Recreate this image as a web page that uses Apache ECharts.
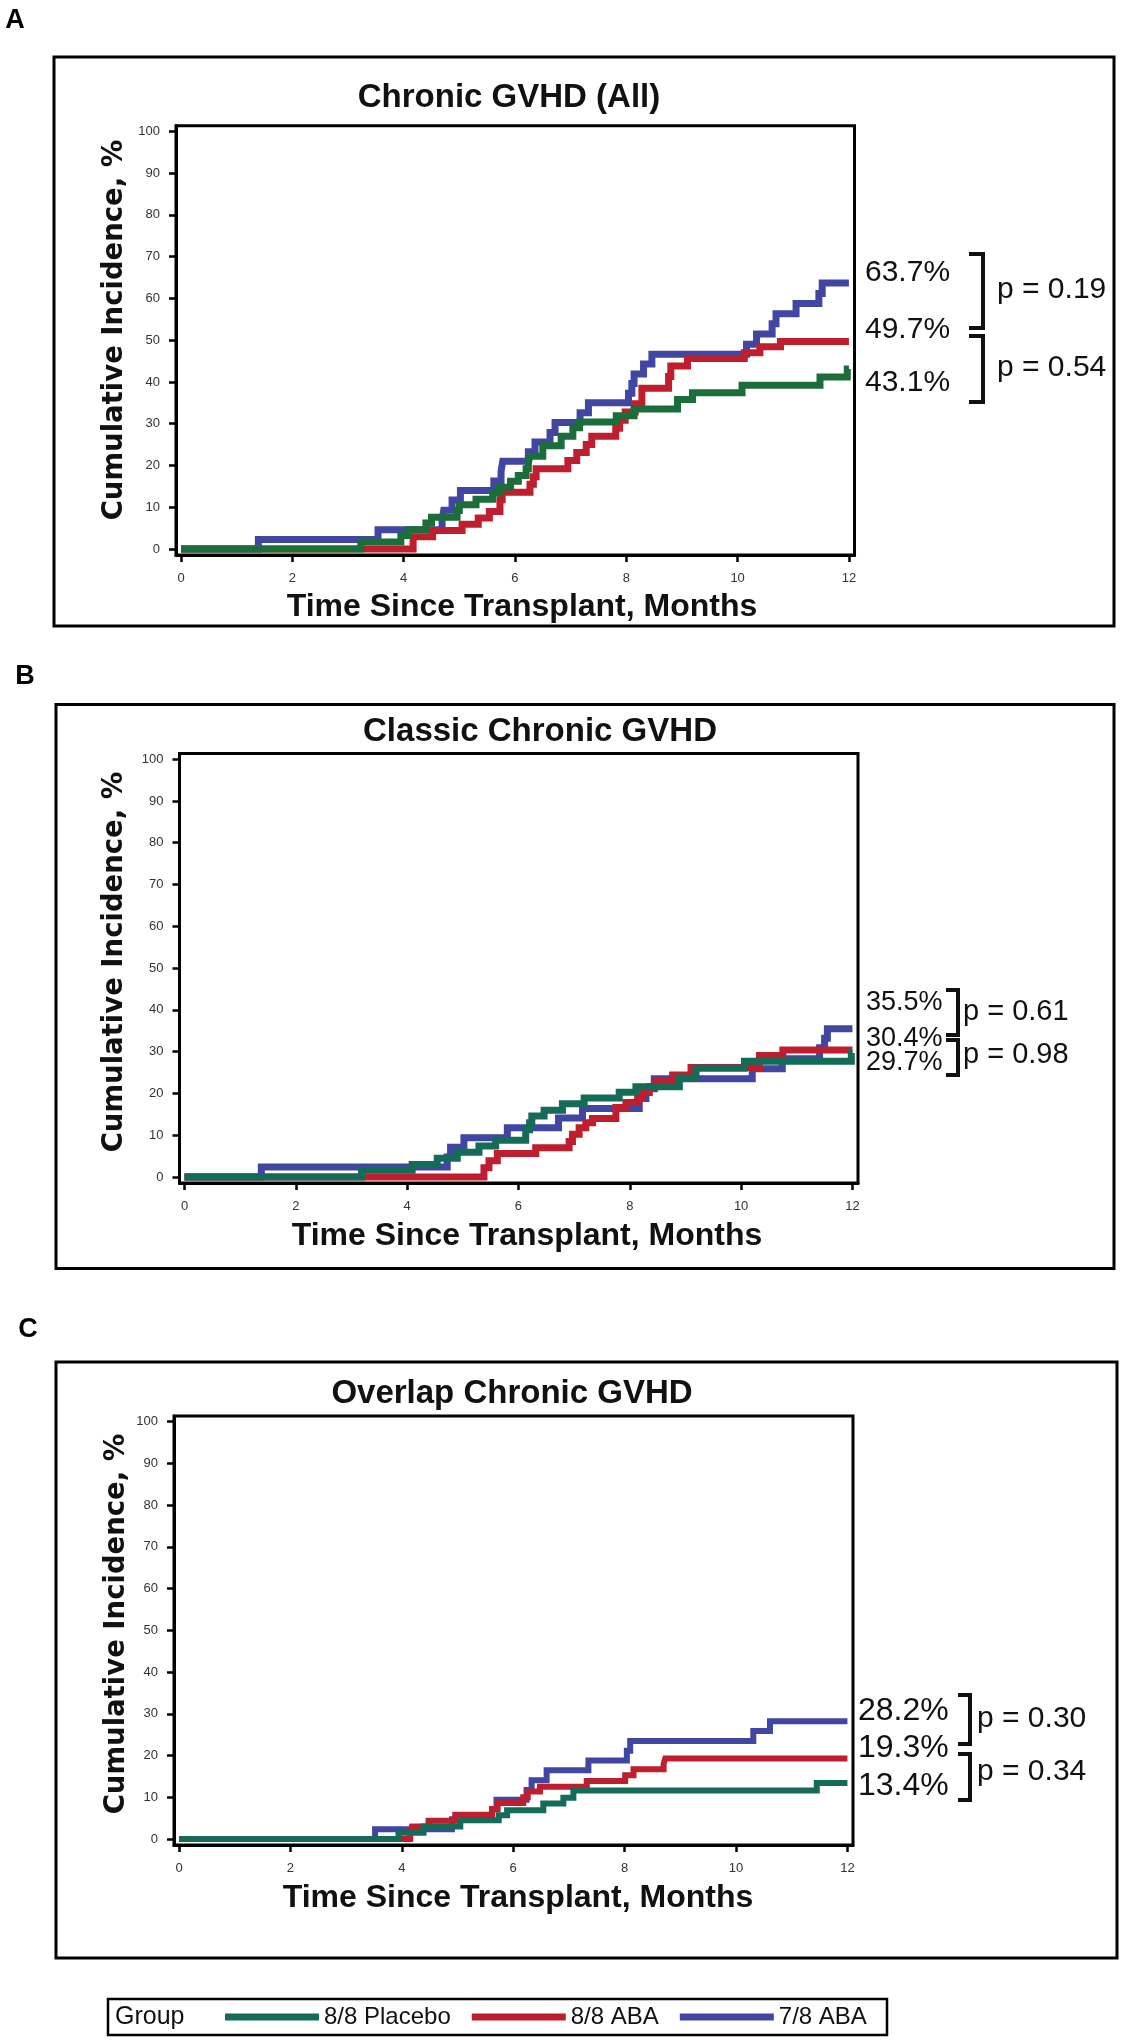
<!DOCTYPE html>
<html><head><meta charset="utf-8">
<script src="https://cdn.jsdelivr.net/npm/echarts@6/dist/echarts.min.js"></script>
<style>html,body{margin:0;padding:0;background:#fff}#chart{width:1126px;height:2040px}</style>
</head><body><div id="chart"></div>
<script>
// ---------------- DATA ----------------
const groups = ['8/8 Placebo', '8/8 ABA', '7/8 ABA'];
const xTicks = [0, 2, 4, 6, 8, 10, 12];
const yTicks = [0, 10, 20, 30, 40, 50, 60, 70, 80, 90, 100];
const panelLetters = ['A', 'B', 'C'];
const panelTitles = ['Chronic GVHD (All)', 'Classic Chronic GVHD', 'Overlap Chronic GVHD'];
const xAxisTitle = 'Time Since Transplant, Months';
const yAxisTitle = 'Cumulative Incidence, %';
const legendTitle = 'Group';

// Panel A: Chronic GVHD (All)  [month, cumulative incidence %]
const allPlacebo = [[0,0],[3.23,1.7],[3.95,3.2],[4.08,4.6],[4.40,6.2],[4.50,7.6],[4.96,9.2],[5.00,10.6],[5.30,11.9],[5.60,13.4],[5.72,14.8],[5.92,16.2],[6.06,17.6],[6.20,19.2],[6.24,20.7],[6.27,22.2],[6.50,24.7],[6.83,27.0],[7.04,29.0],[7.16,30.4],[7.82,31.9],[8.14,33.5],[8.92,35.8],[9.19,37.4],[10.08,39.2],[11.48,41.2],[11.97,43.1],[12,43.1]];
const allAba88 = [[0,0],[4.17,2.9],[4.52,4.4],[5.05,5.9],[5.34,7.4],[5.54,9.0],[5.73,11.8],[5.77,13.6],[6.27,15.5],[6.33,17.3],[6.38,19.2],[6.95,21.2],[7.11,23.1],[7.28,25.0],[7.38,27.0],[7.81,28.9],[7.88,30.8],[7.98,32.8],[8.16,34.8],[8.28,38.5],[8.76,41.3],[8.80,43.8],[9.10,45.6],[10.12,47.0],[10.40,48.4],[10.77,49.7],[12,49.7]];
const allAba78 = [[0,0],[1.39,2.3],[3.54,4.6],[4.69,7.0],[4.72,9.3],[4.87,11.7],[5.02,14.0],[5.62,16.3],[5.75,18.6],[5.78,21.0],[6.24,23.3],[6.36,25.6],[6.63,27.9],[6.72,30.3],[7.17,32.6],[7.32,35.0],[8.04,37.3],[8.10,39.6],[8.14,41.9],[8.31,44.3],[8.46,46.6],[10.16,49.0],[10.34,51.5],[10.62,53.9],[10.69,56.3],[11.05,58.8],[11.46,61.2],[11.52,63.7],[12,63.7]];
const allFinal = ['63.7%', '49.7%', '43.1%'];
const allP = ['p = 0.19', 'p = 0.54'];

// Panel B: Classic Chronic GVHD
const classicPlacebo = [[0,0],[3.18,1.6],[4.09,3.0],[4.54,4.5],[4.90,5.9],[5.29,7.4],[5.59,8.8],[6.13,11.3],[6.20,13.0],[6.24,14.6],[6.46,16.0],[6.79,17.5],[7.18,18.9],[7.81,20.3],[8.11,21.6],[8.89,23.7],[9.19,26.0],[10.06,27.7],[11.98,29.7],[12,29.7]];
const classicAba88 = [[0,0],[5.38,2.2],[5.47,3.9],[5.62,5.6],[6.31,7.0],[6.91,8.5],[6.97,10.2],[7.09,11.8],[7.21,13.0],[7.33,14.0],[7.75,16.6],[7.93,17.8],[8.14,19.0],[8.23,20.2],[8.35,21.6],[8.47,23.0],[8.77,24.4],[9.10,26.2],[10.33,29.1],[10.75,30.4],[12,30.4]];
const classicAba78 = [[0,0],[1.38,2.4],[4.72,4.8],[4.78,7.1],[5.02,9.4],[5.80,11.8],[6.72,14.1],[7.15,16.4],[8.17,18.8],[8.29,21.1],[8.44,23.5],[10.20,25.9],[10.74,28.3],[11.41,30.9],[11.50,33.2],[11.55,35.5],[12,35.5]];
const classicFinal = ['35.5%', '30.4%', '29.7%'];
const classicP = ['p = 0.61', 'p = 0.98'];

// Panel C: Overlap Chronic GVHD
const overlapPlacebo = [[0,0],[3.94,1.5],[4.39,3.0],[5.05,4.5],[5.74,5.7],[5.89,6.9],[6.54,8.5],[6.90,9.9],[7.08,11.6],[11.45,13.4],[12,13.4]];
const overlapAba88 = [[0,0],[4.15,1.5],[4.18,3.0],[4.48,4.4],[4.96,5.8],[5.62,7.2],[5.72,8.6],[6.18,10.0],[6.26,11.4],[6.48,12.5],[7.32,13.9],[8.01,15.3],[8.16,16.7],[8.70,18.0],[8.73,19.3],[12,19.3]];
const overlapAba78 = [[0,0],[3.52,2.35],[4.90,4.7],[5.62,7.05],[5.70,9.4],[6.24,11.75],[6.33,14.1],[6.60,16.45],[7.35,18.8],[8.04,21.15],[8.10,23.5],[10.31,25.85],[10.61,28.2],[12,28.2]];
const overlapFinal = ['28.2%', '19.3%', '13.4%'];
const overlapP = ['p = 0.30', 'p = 0.34'];

// ---------------- LAYOUT / STYLE ----------------
const panelData = [
  { placebo: allPlacebo, aba88: allAba88, aba78: allAba78, finals: allFinal, ps: allP },
  { placebo: classicPlacebo, aba88: classicAba88, aba78: classicAba78, finals: classicFinal, ps: classicP },
  { placebo: overlapPlacebo, aba88: overlapAba88, aba78: overlapAba78, finals: overlapFinal, ps: overlapP }
];
const layout = [
  { box:[54,57,1114,626], letter:[15,21], title:[509,98], grid:{left:176,top:125.7,width:678.5,height:429.3},
    xTitle:[522,607], yTitle:[115,330], pctX:865, pctY:[273,330,383], pctSize:30, pX:997, pY:[290,368], pSize:30,
    brackets:[[969,983,254,328],[969,983,336,402]], lw:7, green:'#1b6e3a' },
  { box:[56,704.5,1114,1268.6], letter:[25,677], title:[540,732], grid:{left:179.5,top:753.5,width:678.5,height:429.5},
    xTitle:[527,1236], yTitle:[115,962], pctX:866, pctY:[1003,1039,1063], pctSize:27, pX:963, pY:[1012,1055], pSize:29,
    brackets:[[946,958,990,1035],[946,958,1040,1075]], lw:7, green:'#136b58' },
  { box:[56,1362,1117,1958], letter:[28,1330], title:[512,1394], grid:{left:174,top:1416,width:679,height:429},
    xTitle:[518,1898], yTitle:[117,1624], pctX:858, pctY:[1711,1748,1786], pctSize:32, pX:977, pY:[1719,1772], pSize:30,
    brackets:[[958,970,1695,1744],[958,970,1754,1800]], lw:6, green:'#136b58' }
];
const RED = '#be1e2d', BLUE = '#4246a3';
const SANS = 'Liberation Sans, Arial, Helvetica, sans-serif';
const WIDE = 'DejaVu Sans, Verdana, sans-serif';

const grids = [], xAxes = [], yAxes = [], graphics = [];
const seriesBlueRed = [], seriesGreen = [];

layout.forEach((L, i) => {
  grids.push(Object.assign({ show: true, borderColor: '#000', borderWidth: 3, backgroundColor: 'transparent' }, L.grid));
  xAxes.push({
    type: 'value', gridIndex: i, min: -0.09, max: 12.1,
    axisLine: { show: true, onZero: false, lineStyle: { color: '#000', width: 3 } },
    axisTick: { show: true, inside: false, length: 7, customValues: xTicks, lineStyle: { color: '#000', width: 2.5 } },
    axisLabel: { show: true, customValues: xTicks, margin: 17, fontSize: 13, color: '#333', fontFamily: SANS },
    splitLine: { show: false }
  });
  yAxes.push({
    type: 'value', gridIndex: i, min: -1.44, max: 101.35,
    axisLine: { show: true, onZero: false, lineStyle: { color: '#000', width: 3 } },
    axisTick: { show: true, inside: false, length: 7, customValues: yTicks, lineStyle: { color: '#000', width: 2.5 } },
    axisLabel: { show: true, customValues: yTicks, margin: 16, fontSize: 13, color: '#333', fontFamily: SANS },
    splitLine: { show: false }
  });
  const D = panelData[i];
  const mk = (name, data, color) => ({
    name, type: 'line', xAxisIndex: i, yAxisIndex: i, data, step: 'end', symbol: 'none', silent: true,
    itemStyle: { color }, lineStyle: { color, width: L.lw, cap: 'butt', join: 'miter' }, animation: false
  });
  seriesBlueRed.push(mk(groups[2], D.aba78, BLUE));
  seriesBlueRed.push(mk(groups[1], D.aba88, RED));
  seriesGreen.unshift(mk(groups[0], D.placebo, L.green));

  // outer panel box
  graphics.push({ type: 'rect', silent: true, shape: { x: L.box[0], y: L.box[1], width: L.box[2]-L.box[0], height: L.box[3]-L.box[1] },
    style: { fill: 'none', stroke: '#000', lineWidth: 3 } });
  // panel letter
  graphics.push({ type: 'text', x: L.letter[0], y: L.letter[1], style: { text: panelLetters[i], fontSize: 27, fontWeight: 'bold', fontFamily: SANS, fill: '#000', align: 'center', verticalAlign: 'middle' } });
  // title
  graphics.push({ type: 'text', x: L.title[0], y: L.title[1], style: { text: panelTitles[i], fontSize: 33, fontWeight: 'bold', fontFamily: SANS, fill: '#111', align: 'center', verticalAlign: 'middle' } });
  // axis titles
  graphics.push({ type: 'text', x: L.xTitle[0], y: L.xTitle[1], style: { text: xAxisTitle, fontSize: 32, fontWeight: 'bold', fontFamily: SANS, fill: '#111', align: 'center', verticalAlign: 'middle' } });
  graphics.push({ type: 'text', x: L.yTitle[0], y: L.yTitle[1], rotation: Math.PI / 2, style: { text: yAxisTitle, fontSize: 27.5, fontWeight: 'bold', fontFamily: WIDE, fill: '#111', align: 'center', verticalAlign: 'middle' } });
  // final percentage labels
  D.finals.forEach((t, k) => graphics.push({ type: 'text', x: L.pctX, y: L.pctY[k], style: { text: t, fontSize: L.pctSize, fontFamily: SANS, fill: '#111', align: 'left', verticalAlign: 'middle' } }));
  D.ps.forEach((t, k) => graphics.push({ type: 'text', x: L.pX, y: L.pY[k], style: { text: t, fontSize: L.pSize, fontFamily: SANS, fill: '#111', align: 'left', verticalAlign: 'middle' } }));
  L.brackets.forEach(b => graphics.push({ type: 'polyline', silent: true, shape: { points: [[b[0], b[2]], [b[1], b[2]], [b[1], b[3]], [b[0], b[3]]] },
    style: { stroke: '#111', lineWidth: 4, fill: 'none', lineJoin: 'miter' } }));
});

// legend frame + title
graphics.push({ type: 'rect', silent: true, shape: { x: 108, y: 1999, width: 779, height: 36 }, style: { fill: 'none', stroke: '#000', lineWidth: 2.5 } });
graphics.push({ type: 'text', x: 115, y: 2017, style: { text: legendTitle, fontSize: 25, fontFamily: SANS, fill: '#111', align: 'left', verticalAlign: 'middle' } });

const option = {
  backgroundColor: '#fff',
  animation: false,
  grid: grids, xAxis: xAxes, yAxis: yAxes,
  legend: {
    data: groups, left: 225, top: 2005, padding: 0, itemWidth: 94, itemHeight: 7, itemGap: 21, icon: 'rect', selectedMode: false,
    textStyle: { fontSize: 24, fontFamily: SANS, color: '#111', lineHeight: 24 }
  },
  series: seriesBlueRed.concat(seriesGreen),
  graphic: graphics
};
const chart = echarts.init(document.getElementById('chart'), null, { renderer: 'canvas' });
chart.setOption(option);
</script></body></html>
